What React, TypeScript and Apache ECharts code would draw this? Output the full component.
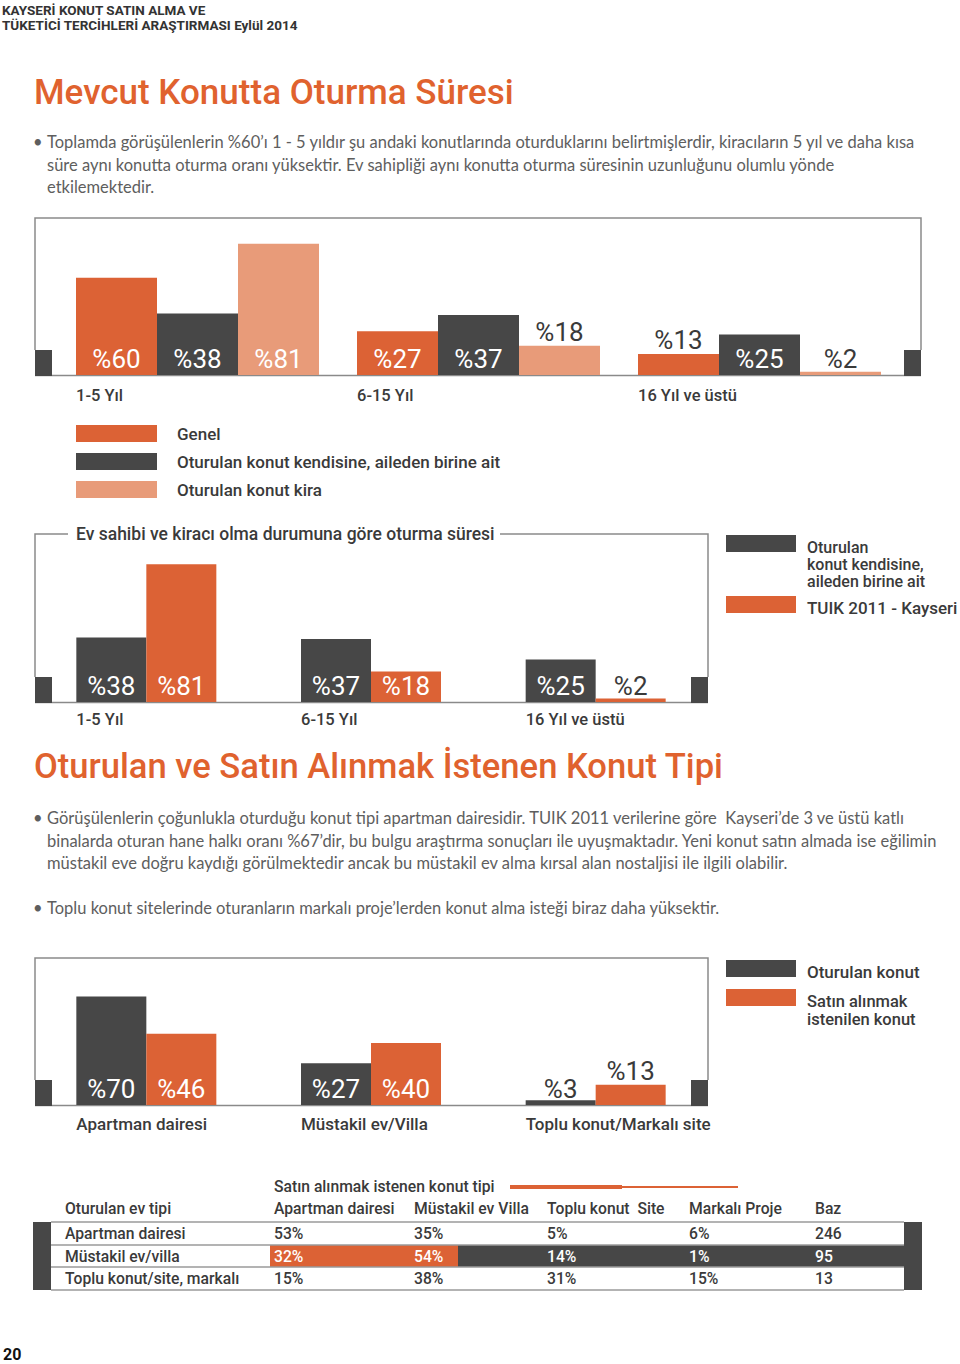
import React, { useEffect, useRef } from 'react';
import * as echarts from 'echarts';

const ORANGE = '#DC6235';
const DARK = '#474747';
const LIGHT = '#E89B79';
const TITLE = '#E0622E';
const TEXT = '#3a3a3a';
const BODY = '#5e5e5e';
const FRAME = '#8a8a8a';
const LABEL_FONT = "'Liberation Sans Narrow', 'Arial Narrow', Roboto, sans-serif";

// ---------- Chart 1 data ----------
const c1Categories = ['1-5 Yıl', '6-15 Yıl', '16 Yıl ve üstü'];
const c1Names = ['Genel', 'Oturulan konut kendisine, aileden birine ait', 'Oturulan konut kira'];
const c1Genel = [60, 27, 13];
const c1Kendisine = [38, 37, 25];
const c1Kira = [81, 18, 2];

// ---------- Chart 2 data ----------
const c2Categories = ['1-5 Yıl', '6-15 Yıl', '16 Yıl ve üstü'];
const c2Names = ['Oturulan konut kendisine, aileden birine ait', 'TUIK 2011 - Kayseri'];
const c2LegendLines = ['Oturulan', 'konut kendisine,', 'aileden birine ait'];
const c2Kendisine = [38, 37, 25];
const c2Tuik = [81, 18, 2];

// ---------- Chart 3 data ----------
const c3Categories = ['Apartman dairesi', 'Müstakil ev/Villa', 'Toplu konut/Markalı site'];
const c3Names = ['Oturulan konut', 'Satın alınmak istenilen konut'];
const c3LegendLines = ['Satın alınmak', 'istenilen konut'];
const c3Oturulan = [70, 27, 3];
const c3Satin = [46, 40, 13];

// ---------- Table data ----------
const tableGroupTitle = 'Satın alınmak istenen konut tipi';
const tableHeaders = ['Oturulan ev tipi', 'Apartman dairesi', 'Müstakil ev Villa', 'Toplu konut  Site', 'Markalı Proje', 'Baz'];
const tableRowLabels = ['Apartman dairesi', 'Müstakil ev/villa', 'Toplu konut/site, markalı'];
const tableApartman = [53, 32, 15];
const tableMustakil = [35, 54, 38];
const tableToplu = [5, 14, 31];
const tableMarkali = [6, 1, 15];
const tableBaz = [246, 95, 13];

// label placement styles (not data)
const c1GenelLabel = ['in', 'in', 'top'];
const c1KendisineLabel = ['in', 'in', 'in'];
const c1KiraLabel = ['in', 'top', 'row'];
const c2KendisineLabel = ['in', 'in', 'in'];
const c2TuikLabel = ['in', 'in', 'row'];
const c3OturulanLabel = ['in', 'in', 'row'];
const c3SatinLabel = ['in', 'in', 'top'];

const para1 = [
  'Toplamda görüşülenlerin %60’ı 1 - 5 yıldır şu andaki konutlarında oturduklarını belirtmişlerdir, kiracıların 5 yıl ve daha kısa',
  'süre aynı konutta oturma oranı yüksektir. Ev sahipliği aynı konutta oturma süresinin uzunluğunu olumlu yönde',
  'etkilemektedir.',
];
const para2 = [
  'Görüşülenlerin çoğunlukla oturduğu konut tipi apartman dairesidir. TUIK 2011 verilerine göre  Kayseri’de 3 ve üstü katlı',
  'binalarda oturan hane halkı oranı %67’dir, bu bulgu araştırma sonuçları ile uyuşmaktadır. Yeni konut satın almada ise eğilimin',
  'müstakil eve doğru kaydığı görülmektedir ancak bu müstakil ev alma kırsal alan nostaljisi ile ilgili olabilir.',
];
const para3 = ['Toplu konut sitelerinde oturanların markalı proje’lerden konut alma isteği biraz daha yüksektir.'];

function barData(values: number[], modes: string[]) {
  return values.map((v, i) => {
    const m = modes[i];
    const base = { show: true, fontFamily: LABEL_FONT, fontSize: 26, lineHeight: 28, formatter: '%{c}' };
    if (m === 'top') {
      return { value: v, label: { ...base, position: 'top', distance: 0, color: TEXT } };
    }
    return {
      value: v,
      label: { ...base, position: 'insideBottom', distance: 2, color: m === 'in' ? '#ffffff' : TEXT },
    };
  });
}

function barSeries(name: string, values: number[], modes: string[], color: string, idx: number, barWidth: number) {
  return {
    type: 'bar',
    name,
    xAxisIndex: idx,
    yAxisIndex: idx,
    data: barData(values, modes),
    barWidth,
    barGap: '0%',
    itemStyle: { color },
    silent: true,
    z: 3,
  };
}

function xAxis(gi: number, cats: string[], labelWidth: number, fontSize: number, margin: number) {
  return {
    type: 'category',
    gridIndex: gi,
    data: cats,
    axisLine: { show: false },
    axisTick: { show: false },
    splitLine: { show: false },
    axisLabel: {
      interval: 0,
      margin,
      formatter: (v: string) => `{a|${v}}`,
      rich: {
        a: { width: labelWidth, align: 'left', fontFamily: 'Roboto', fontWeight: 500, fontSize, color: TEXT },
      },
    },
  };
}

function yAxis(gi: number) {
  return { type: 'value', gridIndex: gi, min: 0, max: 100, show: false };
}

const T = (text: string, x: number, y: number, font: string, fill = TEXT, align = 'left') => ({
  type: 'text',
  x,
  y,
  silent: true,
  z: 10,
  style: { text, font, fill, textAlign: align, textVerticalAlign: 'middle' },
});
const R = (x: number, y: number, w: number, h: number, fill: string, z = 1) => ({
  type: 'rect',
  silent: true,
  z,
  shape: { x, y, width: w, height: h },
  style: { fill },
});
const PL = (points: number[][], stroke = FRAME, lineWidth = 1.5, z = 1) => ({
  type: 'polyline',
  silent: true,
  z,
  shape: { points },
  style: { stroke, lineWidth, fill: null },
});

function buildGraphics() {
  const g: any[] = [];
  const bodyFont = '16.5px Lato';
  const medium = (s: number) => `500 ${s}px Roboto`;

  // header
  g.push(T('KAYSERİ KONUT SATIN ALMA VE', 2, 10, 'bold 13.5px Roboto', '#333'));
  g.push(T('TÜKETİCİ TERCİHLERİ ARAŞTIRMASI Eylül 2014', 2, 25, 'bold 13.5px Roboto', '#333'));

  // section 1
  g.push(T('Mevcut Konutta Oturma Süresi', 34, 92, medium(35), TITLE));
  g.push(T('•', 33, 142, bodyFont, BODY));
  para1.forEach((l, i) => g.push(T(l, 47, 142 + i * 22.5, bodyFont, BODY)));

  // chart 1 frame
  g.push(PL([[35, 350], [35, 218], [921, 218], [921, 350]]));
  g.push(PL([[35, 375.5], [921, 375.5]]));
  g.push(R(35, 350, 17, 26, DARK));
  g.push(R(904, 350, 17, 26, DARK));

  // chart 2 frame
  g.push(PL([[68, 534], [35, 534], [35, 677]]));
  g.push(T('Ev sahibi ve kiracı olma durumuna göre oturma süresi', 76, 534, medium(17.5), TEXT));
  g.push(PL([[500, 534], [708, 534], [708, 677]]));
  g.push(PL([[35, 702.5], [708, 702.5]]));
  g.push(R(35, 677, 17, 26, DARK));
  g.push(R(691, 677, 17, 26, DARK));
  // chart 2 legend
  g.push(R(726, 535, 70, 17, DARK));
  c2LegendLines.forEach((l, i) => g.push(T(l, 807, 547 + i * 17, medium(16), TEXT)));
  g.push(R(726, 596, 70, 17, ORANGE));
  g.push(T(c2Names[1], 807, 608, medium(17), TEXT));

  // section 2
  g.push(T('Oturulan ve Satın Alınmak İstenen Konut Tipi', 34, 766, medium(34.6), TITLE));
  g.push(T('•', 33, 818, bodyFont, BODY));
  para2.forEach((l, i) => g.push(T(l, 47, 818 + i * 22.5, bodyFont, BODY)));
  g.push(T('•', 33, 908, bodyFont, BODY));
  para3.forEach((l, i) => g.push(T(l, 47, 908 + i * 22.5, bodyFont, BODY)));

  // chart 3 frame
  g.push(PL([[35, 1080], [35, 958], [708, 958], [708, 1080]]));
  g.push(PL([[35, 1105.5], [708, 1105.5]]));
  g.push(R(35, 1080, 17, 26, DARK));
  g.push(R(691, 1080, 17, 26, DARK));
  // chart 3 legend
  g.push(R(726, 960, 70, 17, DARK));
  g.push(T(c3Names[0], 807, 972, medium(17), TEXT));
  g.push(R(726, 989, 70, 17, ORANGE));
  c3LegendLines.forEach((l, i) => g.push(T(l, 807, 1001 + i * 18, medium(16.5), TEXT)));

  // table
  const colX = [65, 274, 414, 547, 689, 815];
  const tf = medium(15.7);
  g.push(T(tableGroupTitle, 274, 1186, tf, TEXT));
  g.push(PL([[510, 1187], [622, 1187]], ORANGE, 4));
  g.push(PL([[622, 1187], [738, 1187]], ORANGE, 2));
  tableHeaders.forEach((h, i) => g.push(T(h, colX[i], 1208, tf, TEXT)));
  const rowTop = [1222, 1245, 1267];
  const rowH = [23, 22, 23];
  g.push(R(270, 1245, 188, 22, ORANGE));
  g.push(R(458, 1245, 447, 22, DARK));
  g.push(R(33, 1222, 18, 68, DARK, 2));
  g.push(R(904, 1222, 18, 68, DARK, 2));
  [1222, 1245, 1267, 1290].forEach((y) => g.push(PL([[51, y], [904, y]], '#9a9a9a', 1.5)));
  tableRowLabels.forEach((lab, r) => {
    const cy = rowTop[r] + rowH[r] / 2;
    const vals = [
      `${tableApartman[r]}%`,
      `${tableMustakil[r]}%`,
      `${tableToplu[r]}%`,
      `${tableMarkali[r]}%`,
      `${tableBaz[r]}`,
    ];
    g.push(T(lab, colX[0], cy, tf, TEXT));
    vals.forEach((v, c) => g.push(T(v, colX[c + 1], cy, tf, r === 1 ? '#ffffff' : TEXT)));
  });

  // page number
  g.push(T('20', 3, 1354, 'bold 16px Roboto', '#111'));
  return g;
}

export default function App() {
  const ref = useRef<HTMLDivElement>(null);
  useEffect(() => {
    if (!ref.current) return;
    const chart = echarts.init(ref.current, null, { renderer: 'svg' });
    chart.setOption({
      animation: false,
      backgroundColor: '#ffffff',
      grid: [
        { left: 57, top: 213, width: 843, height: 162 },
        { left: 34, top: 532, width: 674, height: 170 },
        { left: 34, top: 950, width: 674, height: 155 },
      ],
      xAxis: [
        xAxis(0, c1Categories, 243, 16.5, 12),
        xAxis(1, c2Categories, 140, 16.5, 9),
        xAxis(2, c3Categories, 140, 17, 10),
      ],
      yAxis: [yAxis(0), yAxis(1), yAxis(2)],
      legend: {
        data: c1Names,
        left: 76,
        top: 425,
        padding: 0,
        orient: 'vertical',
        itemWidth: 81,
        itemHeight: 17,
        itemGap: 11,
        icon: 'rect',
        selectedMode: false,
        textStyle: { fontFamily: 'Roboto', fontWeight: 500, fontSize: 17, color: TEXT, padding: [0, 0, 0, 15] },
      },
      series: [
        barSeries(c1Names[0], c1Genel, c1GenelLabel, ORANGE, 0, 81),
        barSeries(c1Names[1], c1Kendisine, c1KendisineLabel, DARK, 0, 81),
        barSeries(c1Names[2], c1Kira, c1KiraLabel, LIGHT, 0, 81),
        barSeries(c2Names[0], c2Kendisine, c2KendisineLabel, DARK, 1, 70),
        barSeries(c2Names[1], c2Tuik, c2TuikLabel, ORANGE, 1, 70),
        barSeries(c3Names[0], c3Oturulan, c3OturulanLabel, DARK, 2, 70),
        barSeries(c3Names[1], c3Satin, c3SatinLabel, ORANGE, 2, 70),
      ],
      graphic: buildGraphics(),
    });
    return () => chart.dispose();
  }, []);
  return <div ref={ref} style={{ position: 'absolute', left: 0, top: 0, width: 960, height: 1364 }} />;
}
